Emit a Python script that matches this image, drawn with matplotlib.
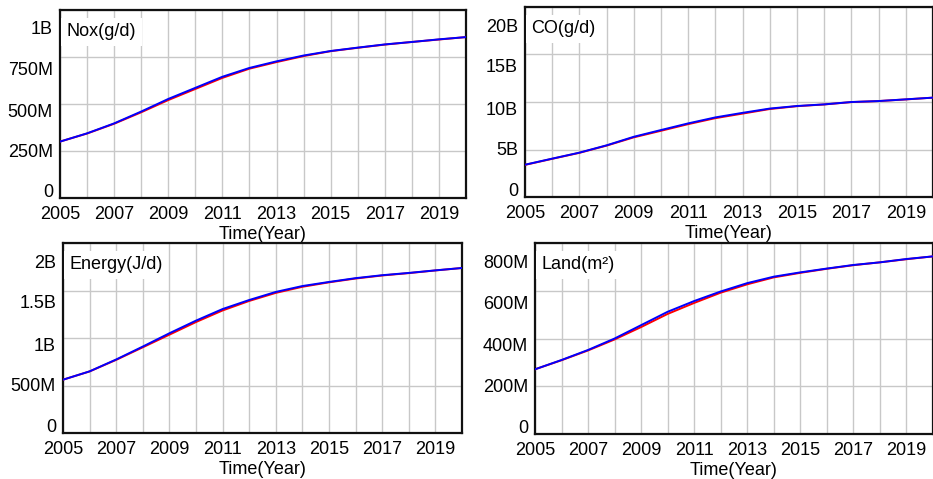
import numpy as np
import matplotlib
matplotlib.use("Agg")
import matplotlib.pyplot as plt

plt.rcParams['font.family'] = ['Liberation Sans', 'DejaVu Sans']

years = list(range(2005, 2021))

# simulated (blue) and historical (red) values
nox_blue = [300e6, 344e6, 397e6, 460e6, 527e6, 586e6, 645e6, 692e6, 727e6, 758e6, 782e6, 800e6, 817e6, 830e6, 844e6, 856e6]
nox_red = [300e6, 343e6, 395e6, 456e6, 521e6, 580e6, 639e6, 688e6, 723e6, 755e6, 781e6, 799e6, 816e6, 830e6, 843e6, 856e6]

co_blue = [3.40e9, 4.04e9, 4.67e9, 5.44e9, 6.34e9, 7.05e9, 7.75e9, 8.38e9, 8.86e9, 9.31e9, 9.58e9, 9.75e9, 10.0e9, 10.1e9, 10.28e9, 10.46e9]
co_red = [3.38e9, 4.02e9, 4.65e9, 5.41e9, 6.28e9, 6.97e9, 7.67e9, 8.30e9, 8.78e9, 9.26e9, 9.56e9, 9.74e9, 9.99e9, 10.1e9, 10.27e9, 10.46e9]

energy_blue = [0.561e9, 0.649e9, 0.774e9, 0.910e9, 1.050e9, 1.183e9, 1.305e9, 1.400e9, 1.485e9, 1.547e9, 1.590e9, 1.630e9, 1.661e9, 1.685e9, 1.712e9, 1.737e9]
energy_red = [0.561e9, 0.648e9, 0.770e9, 0.902e9, 1.035e9, 1.168e9, 1.290e9, 1.390e9, 1.475e9, 1.539e9, 1.586e9, 1.626e9, 1.658e9, 1.683e9, 1.711e9, 1.737e9]

land_blue = [271e6, 310e6, 352e6, 400e6, 456e6, 512e6, 557e6, 597e6, 632e6, 659e6, 677e6, 693e6, 708e6, 719e6, 733e6, 744e6]
land_red = [271e6, 309e6, 350e6, 396e6, 448e6, 503e6, 549e6, 592e6, 627e6, 656e6, 675e6, 692e6, 707e6, 719e6, 732e6, 744e6]

panels = [
    ("Nox(g/d)", nox_red, nox_blue, [0, 250e6, 500e6, 750e6, 1e9], ["0", "250M", "500M", "750M", "1B"]),
    ("CO(g/d)", co_red, co_blue, [0, 5e9, 10e9, 15e9, 20e9], ["0", "5B", "10B", "15B", "20B"]),
    ("Energy(J/d)", energy_red, energy_blue, [0, 0.5e9, 1e9, 1.5e9, 2e9], ["0", "500M", "1B", "1.5B", "2B"]),
    ("Land(m²)", land_red, land_blue, [0, 200e6, 400e6, 600e6, 800e6], ["0", "200M", "400M", "600M", "800M"]),
]

# axes rectangles in figure fractions (left, bottom, width, height)
rects = [
    (0.0643, 0.5866, 0.4352, 0.3925),
    (0.5627, 0.5887, 0.4373, 0.3967),
    (0.0675, 0.0960, 0.4277, 0.3967),
    (0.5734, 0.0939, 0.4266, 0.3988),
]

# Vensim spreads the y labels evenly, not on the grid lines
label_frac = [0.04, 0.255, 0.468, 0.69, 0.905]

fig = plt.figure(figsize=(9.33, 4.79), dpi=100)

for (title, red, blue, yt, ylab), rect in zip(panels, rects):
    ax = fig.add_axes(rect)
    ax.plot(years, red, color='red', lw=1.4, zorder=3)
    ax.plot(years, blue, color='blue', lw=1.4, zorder=4)
    ymax = yt[-1]
    ax.set_xlim(2005, 2020)
    ax.set_ylim(0, ymax)

    ax.set_xticks(years, [str(y) if y % 2 == 1 and y < 2020 else "" for y in years])
    ax.set_yticks(yt, [""] * len(yt))
    ax.set_yticks([f * ymax for f in label_frac], ylab, minor=True)
    ax.tick_params(which='both', length=0, labelsize=13)
    ax.tick_params(axis='x', pad=6)
    ax.tick_params(axis='y', which='minor', pad=5)
    ax.grid(True, which='major', color='#c8c8c8', lw=1)
    ax.set_axisbelow(True)
    for s in ax.spines.values():
        s.set_color('#111111')
        s.set_linewidth(1.6)

    ax.set_xlabel("Time(Year)", fontsize=13, labelpad=2)
    ax.text(0.016, 0.885, title, transform=ax.transAxes, fontsize=13,
            va='center', ha='left', zorder=5,
            bbox=dict(facecolor='white', edgecolor='none', pad=4))

fig.savefig("out.png", dpi=100)
